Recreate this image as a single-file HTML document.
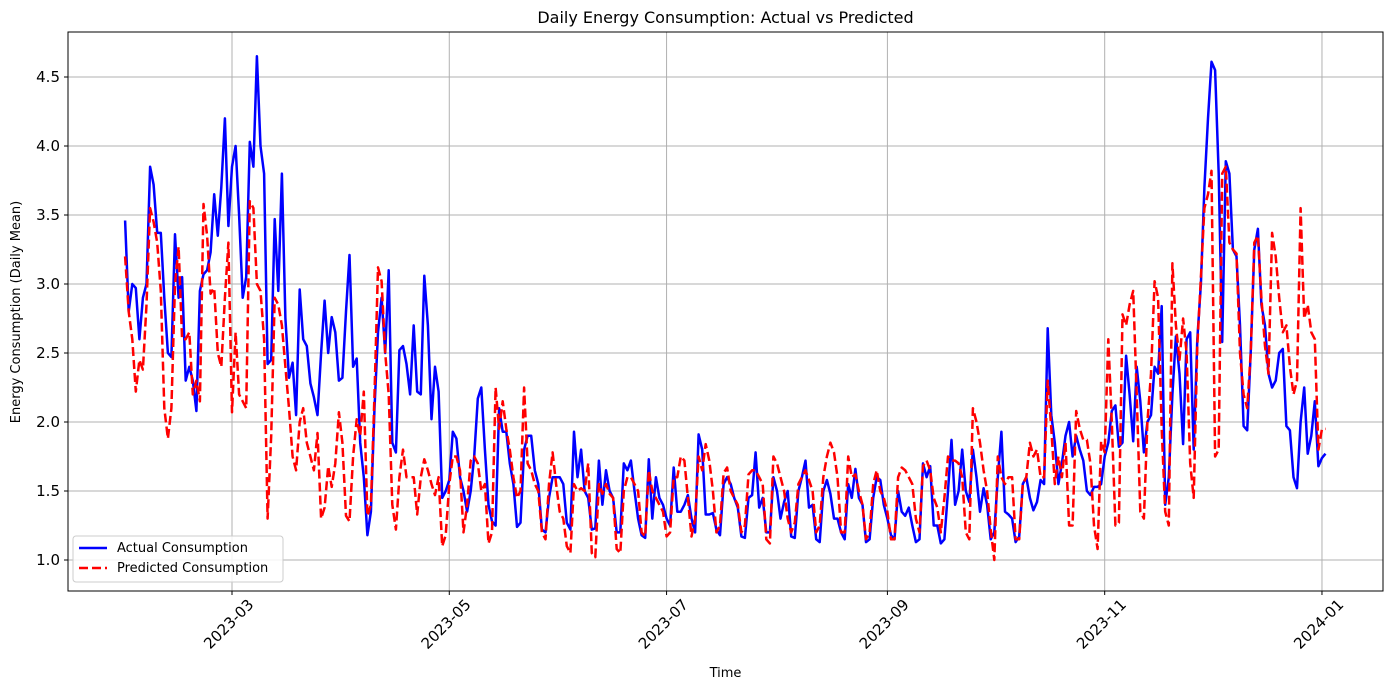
<!DOCTYPE html>
<html><head><meta charset="utf-8"><style>
body{margin:0;background:#fff;font-family:"Liberation Sans","DejaVu Sans",sans-serif}
</style></head><body>
<svg id="c" width="1389" height="690" xmlns="http://www.w3.org/2000/svg" font-family="DejaVu Sans, Liberation Sans, sans-serif"></svg>
<script>
const startDate = "2023-01-30";
const actual = [3.46,2.8,3.0,2.97,2.6,2.9,3.0,3.85,3.72,3.37,3.37,2.9,2.5,2.47,3.36,2.9,3.05,2.3,2.4,2.3,2.08,2.95,3.07,3.1,3.23,3.65,3.35,3.7,4.2,3.42,3.85,4.0,3.5,2.9,3.05,4.03,3.85,4.65,4.0,3.8,2.42,2.45,3.47,2.95,3.8,2.75,2.32,2.43,2.05,2.96,2.6,2.55,2.28,2.18,2.05,2.5,2.88,2.5,2.76,2.65,2.3,2.32,2.8,3.21,2.4,2.46,1.85,1.6,1.18,1.35,2.1,2.65,2.9,2.5,3.1,1.85,1.78,2.52,2.55,2.42,2.2,2.7,2.22,2.2,3.06,2.7,2.02,2.4,2.22,1.45,1.5,1.58,1.93,1.88,1.6,1.5,1.35,1.5,1.75,2.17,2.25,1.8,1.4,1.28,1.25,2.1,1.93,1.93,1.7,1.55,1.24,1.27,1.8,1.9,1.9,1.65,1.55,1.22,1.2,1.45,1.6,1.6,1.6,1.55,1.27,1.22,1.93,1.6,1.8,1.5,1.45,1.22,1.23,1.72,1.4,1.65,1.5,1.45,1.2,1.2,1.7,1.65,1.72,1.5,1.3,1.18,1.16,1.73,1.3,1.6,1.45,1.4,1.3,1.25,1.67,1.35,1.35,1.4,1.47,1.3,1.2,1.91,1.8,1.33,1.33,1.34,1.22,1.18,1.55,1.6,1.55,1.45,1.38,1.17,1.16,1.45,1.47,1.78,1.38,1.45,1.2,1.2,1.6,1.5,1.3,1.42,1.5,1.17,1.16,1.5,1.6,1.72,1.38,1.4,1.15,1.13,1.5,1.58,1.48,1.3,1.3,1.2,1.15,1.55,1.45,1.66,1.45,1.4,1.13,1.15,1.45,1.6,1.58,1.4,1.3,1.18,1.15,1.5,1.35,1.32,1.38,1.25,1.13,1.15,1.7,1.6,1.68,1.25,1.25,1.12,1.15,1.5,1.87,1.4,1.5,1.8,1.5,1.42,1.8,1.6,1.35,1.52,1.4,1.15,1.2,1.6,1.93,1.35,1.33,1.3,1.13,1.17,1.55,1.6,1.45,1.36,1.42,1.58,1.55,2.68,2.05,1.85,1.55,1.7,1.9,2.0,1.75,1.9,1.8,1.72,1.5,1.47,1.53,1.53,1.55,1.75,1.85,2.08,2.12,1.82,1.85,2.48,2.2,1.86,2.4,2.15,1.78,2.0,2.05,2.4,2.35,2.84,1.4,1.6,2.2,2.62,2.35,1.84,2.6,2.65,1.8,2.6,3.0,3.7,4.2,4.61,4.55,3.8,2.58,3.89,3.8,3.25,3.2,2.7,1.97,1.94,2.5,3.25,3.4,2.85,2.7,2.35,2.25,2.3,2.5,2.53,1.97,1.94,1.6,1.52,2.0,2.25,1.77,1.9,2.15,1.68,1.74,1.77];
const predicted = [3.2,2.8,2.6,2.22,2.45,2.38,2.85,3.55,3.45,3.3,2.95,2.1,1.88,2.1,3.0,3.27,2.6,2.6,2.65,2.2,2.3,2.15,3.58,3.35,2.93,2.97,2.5,2.4,2.9,3.3,2.07,2.65,2.2,2.15,2.1,3.6,3.55,3.0,2.95,2.6,1.3,1.9,2.9,2.85,2.7,2.4,2.1,1.75,1.65,2.0,2.1,1.85,1.75,1.65,1.92,1.3,1.38,1.68,1.53,1.7,2.07,1.85,1.32,1.28,1.75,2.02,1.9,2.22,1.32,1.4,2.2,3.12,3.02,2.5,2.2,1.4,1.22,1.6,1.8,1.6,1.6,1.6,1.33,1.6,1.73,1.65,1.55,1.47,1.6,1.1,1.18,1.55,1.75,1.75,1.65,1.2,1.4,1.72,1.75,1.7,1.5,1.55,1.12,1.2,2.25,1.95,2.15,1.95,1.8,1.6,1.45,1.5,2.25,1.7,1.65,1.55,1.5,1.2,1.15,1.55,1.78,1.55,1.35,1.3,1.1,1.05,1.55,1.5,1.52,1.5,1.7,1.05,1.02,1.55,1.48,1.55,1.48,1.45,1.08,1.05,1.5,1.6,1.6,1.55,1.5,1.2,1.17,1.65,1.5,1.45,1.4,1.35,1.17,1.2,1.6,1.6,1.75,1.72,1.45,1.17,1.3,1.75,1.65,1.84,1.72,1.5,1.2,1.25,1.63,1.67,1.5,1.45,1.4,1.2,1.25,1.62,1.65,1.65,1.6,1.55,1.15,1.12,1.75,1.7,1.6,1.5,1.3,1.2,1.27,1.55,1.6,1.65,1.58,1.5,1.2,1.25,1.6,1.75,1.85,1.78,1.6,1.2,1.2,1.75,1.6,1.62,1.5,1.4,1.15,1.2,1.55,1.65,1.5,1.45,1.35,1.15,1.15,1.6,1.67,1.65,1.6,1.55,1.3,1.2,1.68,1.72,1.65,1.45,1.38,1.2,1.45,1.75,1.72,1.72,1.7,1.6,1.2,1.15,2.1,2.0,1.85,1.65,1.5,1.22,1.0,1.75,1.6,1.55,1.6,1.6,1.15,1.15,1.55,1.6,1.85,1.75,1.8,1.6,1.6,2.3,1.95,1.55,1.75,1.6,1.85,1.25,1.25,2.08,1.95,1.87,1.87,1.7,1.25,1.08,1.86,1.78,2.6,2.0,1.25,1.27,2.78,2.7,2.85,2.95,2.2,1.35,1.3,2.0,2.35,3.02,2.9,1.95,1.35,1.25,3.15,2.7,2.45,2.75,2.5,1.7,1.45,2.55,3.05,3.55,3.65,3.82,1.75,1.8,3.8,3.85,3.3,3.25,3.22,2.5,2.2,2.1,2.5,3.3,3.35,2.9,2.55,2.35,3.37,3.2,2.9,2.65,2.7,2.4,2.2,2.3,3.55,2.75,2.85,2.65,2.6,1.8,1.95,1.95];
const yTicks = [1.0,1.5,2.0,2.5,3.0,3.5,4.0,4.5];
const xTicks = ["2023-03","2023-05","2023-07","2023-09","2023-11","2024-01"];

const svg = document.getElementById('c');
const NS = "http://www.w3.org/2000/svg";
const L=68,R=1383,T=32,B=591;
const dayMs=86400000, ref=Date.UTC(2023,2,1);
function xs(d){return 232+(d-ref)/dayMs*3.562;}
function ys(v){return 560-(v-1)*138;}
function mk(tag,attrs,parent){const e=document.createElementNS(NS,tag);for(const k in attrs)e.setAttribute(k,attrs[k]);(parent||svg).appendChild(e);return e;}
const s0=Date.parse(startDate+"T00:00:00Z");
yTicks.forEach(v=>{
  const g=mk('line',{x1:L,x2:R,y1:ys(v),y2:ys(v),stroke:'#b0b0b0','stroke-width':1});
  
  
  mk('line',{x1:L-4,x2:L,y1:ys(v),y2:ys(v),stroke:'#000'});
  const t=mk('text',{x:L-8,y:ys(v)+5,'text-anchor':'end','font-size':15});
  t.textContent=v.toFixed(1);
  
  
});
xTicks.forEach(s=>{
  const x=xs(Date.parse(s+"-01T00:00:00Z"));
  const g=mk('line',{x1:x,x2:x,y1:T,y2:B,stroke:'#b0b0b0','stroke-width':1});
  
  
  mk('line',{x1:x,x2:x,y1:B,y2:B+4,stroke:'#000'});
  const ax=x+14, ay=B+6;
  const t=mk('text',{x:ax,y:ay,'text-anchor':'end','font-size':15,transform:`rotate(-45 ${ax} ${ay})`,dy:'0.8em'});
  t.textContent=s;
  
  
});
function path(arr){return arr.map((v,i)=>(i?'L':'M')+xs(s0+i*dayMs).toFixed(1)+','+ys(v).toFixed(1)).join('');}
const pa=mk('path',{d:path(actual),fill:'none',stroke:'#0000ff','stroke-width':2.5,'stroke-linejoin':'round'});


const pp=mk('path',{d:path(predicted),fill:'none',stroke:'#ff0000','stroke-width':2.5,'stroke-dasharray':'9,4','stroke-linejoin':'round'});


const fr=mk('rect',{x:L,y:T,width:R-L,height:B-T,fill:'none',stroke:'#000','stroke-width':1});


const ti=mk('text',{x:(L+R)/2,y:23,'text-anchor':'middle','font-size':16});
ti.textContent='Daily Energy Consumption: Actual vs Predicted';


const xl=mk('text',{x:(L+R)/2,y:677,'text-anchor':'middle','font-size':13});
xl.textContent='Time';


const yl=mk('text',{x:20,y:312,'text-anchor':'middle','font-size':13,transform:'rotate(-90 20 312)'});
yl.textContent='Energy Consumption (Daily Mean)';


const lg=mk('g',{});


mk('rect',{x:73,y:536,width:210,height:46,rx:3,fill:'#fff','fill-opacity':0.85,stroke:'#ccc'},lg);
const e1=mk('line',{x1:79,x2:107,y1:548,y2:548,stroke:'#0000ff','stroke-width':2.5},lg);


const e2=mk('line',{x1:79,x2:107,y1:568,y2:568,stroke:'#ff0000','stroke-width':2.5,'stroke-dasharray':'9,4'},lg);


const t1=mk('text',{x:117,y:552,'font-size':13},lg);t1.textContent='Actual Consumption';


const t2=mk('text',{x:117,y:572,'font-size':13},lg);t2.textContent='Predicted Consumption';


</script>
</body></html>
